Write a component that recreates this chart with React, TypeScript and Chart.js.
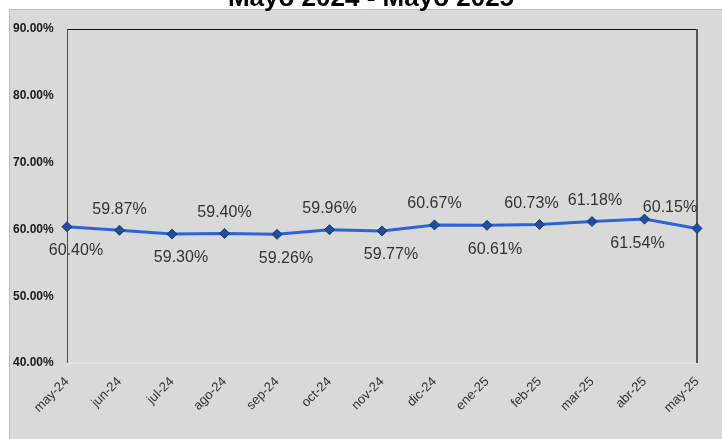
import React, { useEffect, useRef } from "react";
import { Chart, registerables } from "chart.js";

Chart.register(...registerables);

const TITLE = "Mayo 2024 - Mayo 2025";
const CATEGORIES = [
  "may-24", "jun-24", "jul-24", "ago-24", "sep-24", "oct-24", "nov-24",
  "dic-24", "ene-25", "feb-25", "mar-25", "abr-25", "may-25",
];
const VALUES = [60.4, 59.87, 59.3, 59.4, 59.26, 59.96, 59.77, 60.67, 60.61, 60.73, 61.18, 61.54, 60.15];
const Y_MIN = 40;
const Y_MAX = 90;
const Y_STEP = 10;

// label placement style (not data): above/below and horizontal nudge
const LABEL_SIDE = ["below", "above", "below", "above", "below", "above", "below", "above", "below", "above", "above", "below", "above"];
const LABEL_DX = [9, 0, 9, 0, 9, 0, 9, 0, 8, -8, 3, -7, -27];

const FONT = "'Liberation Sans', Arial, Helvetica, sans-serif";

const framePlugin = {
  id: "frame",
  beforeDraw(chart: any) {
    const { ctx, width, height } = chart;
    ctx.save();
    ctx.fillStyle = "#ffffff";
    ctx.fillRect(0, 0, width, height);
    ctx.fillStyle = "#d9d9d9";
    ctx.fillRect(9, 9, width - 9, height - 9);
    ctx.strokeStyle = "#bdbdbd";
    ctx.lineWidth = 1;
    ctx.beginPath();
    ctx.moveTo(9.5, height);
    ctx.lineTo(9.5, 9.5);
    ctx.lineTo(width, 9.5);
    ctx.stroke();
    ctx.fillStyle = "#000000";
    ctx.font = `bold 26px ${FONT}`;
    ctx.textAlign = "center";
    ctx.textBaseline = "alphabetic";
    ctx.fillText(TITLE, 371, 6);
    ctx.restore();
  },
  beforeDatasetsDraw(chart: any) {
    const { ctx, chartArea } = chart;
    const { left, right, top, bottom } = chartArea;
    ctx.save();
    ctx.strokeStyle = "#e2e5e8";
    ctx.lineWidth = 2;
    ctx.beginPath();
    ctx.moveTo(left, bottom);
    ctx.lineTo(right, bottom);
    ctx.stroke();
    ctx.strokeStyle = "#111111";
    ctx.lineWidth = 1;
    ctx.beginPath();
    ctx.moveTo(left, top + 0.5);
    ctx.lineTo(right, top + 0.5);
    ctx.stroke();
    ctx.strokeStyle = "#4a4a4a";
    ctx.beginPath();
    ctx.moveTo(left + 0.5, top);
    ctx.lineTo(left + 0.5, bottom);
    ctx.stroke();
    ctx.strokeStyle = "#555555";
    ctx.lineWidth = 2;
    ctx.beginPath();
    ctx.moveTo(right, top);
    ctx.lineTo(right, bottom);
    ctx.stroke();
    ctx.restore();
  },
  afterDatasetsDraw(chart: any) {
    const { ctx } = chart;
    const meta = chart.getDatasetMeta(0);
    ctx.save();
    ctx.font = `16px ${FONT}`;
    ctx.fillStyle = "#333333";
    ctx.textAlign = "center";
    ctx.textBaseline = "middle";
    meta.data.forEach((pt: any, i: number) => {
      const v = VALUES[i];
      const side = LABEL_SIDE[i];
      const dy = side === "above" ? -21 : 24;
      ctx.fillText(v.toFixed(2) + "%", pt.x + LABEL_DX[i], pt.y + dy);
    });
    ctx.restore();
  },
};

export default function App() {
  const ref = useRef<HTMLCanvasElement | null>(null);

  useEffect(() => {
    document.body.style.margin = "0";
    const canvas = ref.current;
    if (!canvas) return;
    const chart = new Chart(canvas, {
      type: "line",
      data: {
        labels: CATEGORIES,
        datasets: [
          {
            data: VALUES,
            borderColor: "#2f62d8",
            borderWidth: 3,
            tension: 0,
            pointStyle: "rectRot",
            pointRadius: 5,
            pointBackgroundColor: "#1f4e9c",
            pointBorderColor: "#17386f",
            pointBorderWidth: 1,
            clip: false,
          } as any,
        ],
      },
      options: {
        responsive: false,
        animation: false,
        devicePixelRatio: 1,
        layout: { padding: { left: 13, top: 29, right: 25, bottom: 0 } },
        plugins: {
          legend: { display: false },
          title: { display: false },
          tooltip: { enabled: false },
        },
        scales: {
          x: {
            offset: false,
            grid: { display: false },
            border: { display: false },
            ticks: {
              autoSkip: false,
              maxRotation: 45,
              minRotation: 45,
              padding: 3,
              color: "#333333",
              font: { family: FONT, size: 13 },
            },
            afterFit(scale: any) {
              scale.height = 76;
            },
          },
          y: {
            min: Y_MIN,
            max: Y_MAX,
            grid: { display: false },
            border: { display: false },
            ticks: {
              stepSize: Y_STEP,
              crossAlign: "far",
              color: "#1a1a1a",
              font: { family: FONT, size: 12, weight: "bold" },
              callback: (v: any) => Number(v).toFixed(2) + "%",
            },
            afterFit(scale: any) {
              scale.width = 54;
            },
          },
        },
      },
      plugins: [framePlugin],
    });
    return () => chart.destroy();
  }, []);

  return (
    <div style={{ width: 722, height: 439 }}>
      <canvas ref={ref} width={722} height={439} style={{ display: "block" }} />
    </div>
  );
}
